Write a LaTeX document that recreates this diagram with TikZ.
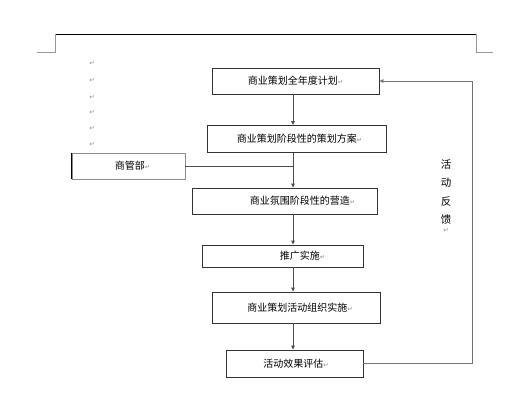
\documentclass[tikz,border=0pt]{standalone}
\usepackage{fontspec}
\newfontfamily\cjk{Noto Sans CJK SC}
\newfontfamily\symf{DejaVu Sans}
\usepackage{tikz}
\usetikzlibrary{arrows.meta,positioning,calc}
\newcommand{\pmark}{{\symf\fontsize{6.5}{7}\selectfont\color{black!45}↵}}

\begin{document}
\begin{tikzpicture}[
  x=1pt, y=-1pt,
  font=\cjk\fontsize{10}{11}\selectfont,
  box/.style={draw=black!80, line width=0.6pt, inner sep=2pt, minimum height=26pt},
  pmk/.style={font=\symf\fontsize{6.5}{7}\selectfont, text=black!45, inner sep=0pt},
  arr/.style={-{Latex[length=4pt,width=4pt]}, line width=0.6pt, draw=black!70},
  fline/.style={line width=0.6pt, draw=black!70},
  page/.style={line width=0.5pt, draw=black!40}
]
\useasboundingbox (0,0) rectangle (518,404);
% page header and corner marks
\coordinate (hl) at (55,34);
\coordinate (hr) at (476,34);
\draw[line width=0.6pt] (hl) -- (hr);
\draw[page] (hl) -- (55,52) -- (37,52);
\draw[page] (hr) -- (476,52) -- (493,52);
\foreach \y in {63,80,97,112,128,144}
  \node[pmk] (mk\y) at (92,\y) {↵};
% boxes
\node[box, minimum width=167pt] (plan) at (295.5,81) {商业策划全年度计划\pmark};
\node[box, minimum width=179pt, minimum height=27pt] (scheme) at (296.5,139) {\hspace*{6pt}商业策划阶段性的策划方案\pmark};
\node[box, draw=black!45, minimum width=113pt] (dept) at (128.5,166) {\hspace*{8pt}商管部\pmark};
\node[box, minimum width=185pt] (atmos) at (284.5,201) {\hspace*{36pt}商业氛围阶段性的营造\pmark};
\node[box, minimum width=161pt, minimum height=22pt] (promo) at (282.5,256) {\hspace*{40pt}推广实施\pmark};
\node[box, minimum width=168pt, minimum height=31pt] (org) at (296,307.5) {\hspace*{8pt}商业策划活动组织实施\pmark};
\node[box, minimum width=137pt, minimum height=27pt] (eval) at (294.5,363.5) {\hspace*{3pt}活动效果评估\pmark};
\draw[line width=1pt] (dept.north west) -- (dept.south west);
\node[align=center, font=\cjk\fontsize{10.5}{18.5}\selectfont] (fb) at (446,196) {活\\动\\反\\馈\\[-10pt]\pmark};
% connectors
\coordinate (spine) at (293,0);
\coordinate (fbk) at (472,0);
\draw[arr] (plan.south -| spine) -- (scheme.north -| spine);
\draw[arr] (scheme.south -| spine) -- (atmos.north -| spine);
\draw[fline] (dept.east) -- (dept.east -| spine);
\draw[arr] (atmos.south -| spine) -- (promo.north -| spine);
\draw[arr] (promo.south -| spine) -- (org.north -| spine);
\draw[arr] (org.south -| spine) -- (eval.north -| spine);
\draw[arr, draw=black!55] (eval.east) -- (eval.east -| fbk) |- (plan.east);
\end{tikzpicture}
\end{document}
